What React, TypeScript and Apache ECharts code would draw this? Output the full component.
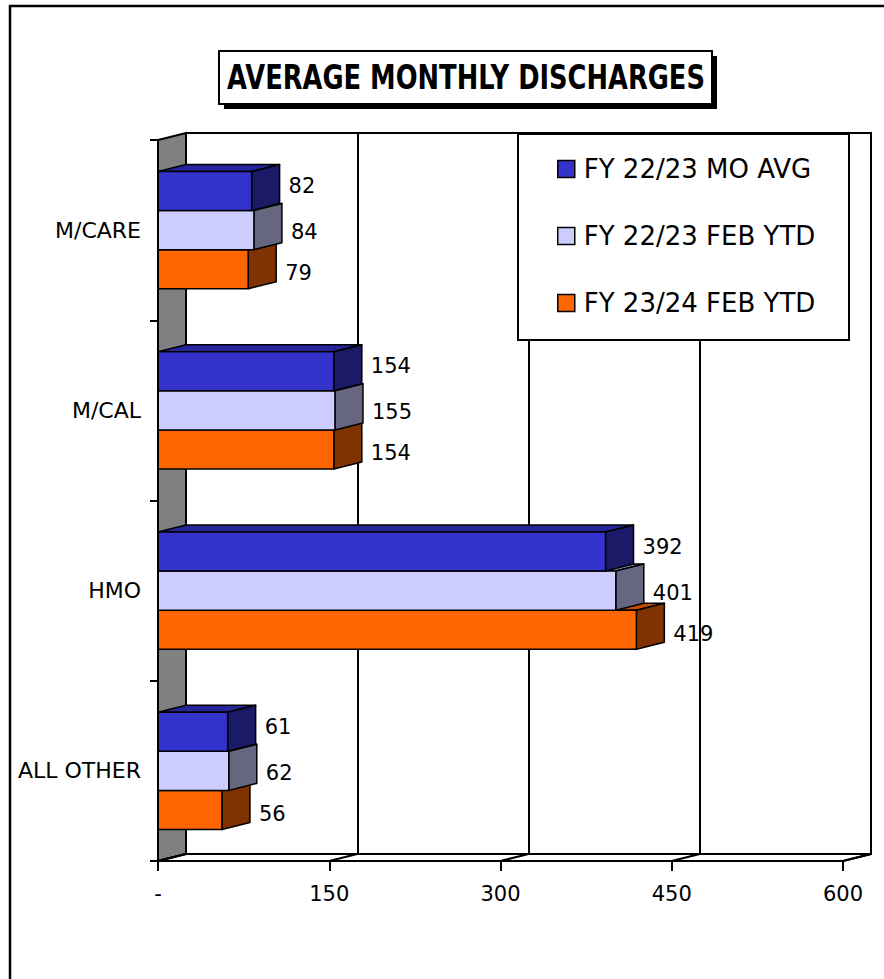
import React, { useEffect, useRef } from "react";
import * as echarts from "echarts";

const TITLE = "AVERAGE MONTHLY DISCHARGES";
const CATEGORIES = ["M/CARE", "M/CAL", "HMO", "ALL OTHER"];
const SERIES_NAMES = ["FY 22/23 MO AVG", "FY 22/23 FEB YTD", "FY 23/24 FEB YTD"];
const MO_AVG_2223 = [82, 154, 392, 61];
const FEB_YTD_2223 = [84, 155, 401, 62];
const FEB_YTD_2324 = [79, 154, 419, 56];
const X_TICKS = [0, 150, 300, 450, 600];

const FONT = "'DejaVu Sans', Verdana, sans-serif";
const DX = 28;
const DY = -7;

type Palette = { front: string; top: string; side: string };
const PALETTES: Palette[] = [
  { front: "#3333CC", top: "#26269A", side: "#1A1A66" },
  { front: "#CCCCFF", top: "#9999BF", side: "#666680" },
  { front: "#FF6600", top: "#BF4C00", side: "#803300" },
];
const LABEL_DY = [-5, 2, 4];

function barRenderer(slot: number, pal: Palette) {
  return (params: any, api: any) => {
    const v = api.value(0);
    const cat = api.value(1);
    const start = api.coord([0, cat]);
    const end = api.coord([v, cat]);
    const band = api.size([0, 1])[1];
    const h = (band * 39) / 180;
    const yT = start[1] - 1.5 * h + slot * h;
    const yB = yT + h;
    const x0 = start[0];
    const xr = end[0];
    const stroke = { stroke: "#000", lineWidth: 1.5, lineJoin: "round" };
    return {
      type: "group",
      children: [
        {
          type: "polygon",
          shape: { points: [[x0, yT], [x0 + DX, yT + DY], [xr + DX, yT + DY], [xr, yT]] },
          style: { fill: pal.top, ...stroke },
        },
        {
          type: "polygon",
          shape: { points: [[xr, yT], [xr + DX, yT + DY], [xr + DX, yB + DY], [xr, yB]] },
          style: { fill: pal.side, ...stroke },
        },
        {
          type: "rect",
          shape: { x: x0, y: yT, width: xr - x0, height: h },
          style: { fill: pal.front, ...stroke },
        },
        {
          type: "text",
          style: {
            text: String(v),
            x: xr + DX + 9,
            y: (yT + yB) / 2 + LABEL_DY[slot],
            fill: "#000",
            fontSize: 21,
            fontFamily: FONT,
            align: "left",
            verticalAlign: "middle",
          },
        },
      ],
    };
  };
}

function decorRenderer(params: any, api: any) {
  const cs = params.coordSys;
  const xL = cs.x;
  const yTop = cs.y;
  const yBot = cs.y + cs.height;
  const xR = cs.x + cs.width;
  const line = { stroke: "#000", lineWidth: 2 };
  const children: any[] = [
    {
      type: "polygon",
      shape: { points: [[xL, yTop], [xL + DX, yTop + DY], [xL + DX, yBot + DY], [xL, yBot]] },
      style: { fill: "#808080", ...line },
    },
    {
      type: "polygon",
      shape: { points: [[xL, yBot], [xR, yBot], [xR + DX, yBot + DY], [xL + DX, yBot + DY]] },
      style: { fill: "#FFFFFF", ...line },
    },
  ];
  X_TICKS.forEach((t) => {
    const px = api.coord([t, 0])[0];
    children.push({
      type: "line",
      shape: { x1: px, y1: yBot, x2: px + DX, y2: yBot + DY },
      style: line,
    });
  });
  return { type: "group", children };
}

export default function App() {
  const ref = useRef<HTMLDivElement>(null);

  useEffect(() => {
    if (!ref.current) return;
    const chart = echarts.init(ref.current, null, { renderer: "svg" });
    const allSeries = [MO_AVG_2223, FEB_YTD_2223, FEB_YTD_2324];

    const gridLeft = 158;
    const gridTop = 140;
    const gridW = 685;
    const gridH = 721;

    const option: any = {
      animation: false,
      backgroundColor: "#FFFFFF",
      textStyle: { fontFamily: FONT },
      grid: [
        { left: gridLeft, top: gridTop, width: gridW, height: gridH, containLabel: false },
        {
          left: gridLeft + DX,
          top: gridTop + DY,
          width: gridW,
          height: gridH,
          show: true,
          backgroundColor: "#FFFFFF",
          borderColor: "#000",
          borderWidth: 2,
          z: 0,
        },
      ],
      xAxis: [
        {
          type: "value",
          gridIndex: 0,
          min: 0,
          max: 600,
          interval: 150,
          z: 6,
          axisLine: { show: true, lineStyle: { color: "#000", width: 2 } },
          axisTick: { show: true, length: 10, lineStyle: { color: "#000", width: 2 } },
          splitLine: { show: false },
          axisLabel: {
            color: "#000",
            fontSize: 21,
            fontFamily: FONT,
            margin: 22,
            formatter: (v: number) => (v === 0 ? "-" : String(v)),
          },
        },
        {
          type: "value",
          gridIndex: 1,
          min: 0,
          max: 600,
          interval: 150,
          axisLine: { show: false },
          axisTick: { show: false },
          axisLabel: { show: false },
          splitLine: { show: true, lineStyle: { color: "#000", width: 2 } },
        },
      ],
      yAxis: [
        {
          type: "category",
          gridIndex: 0,
          data: CATEGORIES,
          inverse: true,
          z: 6,
          axisLine: { show: true, lineStyle: { color: "#000", width: 2 } },
          axisTick: { show: true, length: 8, alignWithLabel: false, lineStyle: { color: "#000", width: 2 } },
          axisLabel: { color: "#000", fontSize: 22, fontFamily: FONT, margin: 17 },
          splitLine: { show: false },
        },
        {
          type: "category",
          gridIndex: 1,
          data: CATEGORIES,
          inverse: true,
          show: false,
        },
      ],
      legend: {
        data: SERIES_NAMES,
        orient: "vertical",
        left: 557,
        top: 156,
        padding: 0,
        itemWidth: 17,
        itemHeight: 17,
        itemGap: 41,
        icon: "rect",
        z: 12,
        itemStyle: { borderColor: "#000", borderWidth: 1.5 },
        textStyle: { color: "#000", fontSize: 26, lineHeight: 26, fontFamily: FONT, padding: [0, 0, 0, 4] },
        selectedMode: false,
      },
      graphic: [
        {
          type: "rect",
          z: -1,
          silent: true,
          shape: { x: 10, y: 6, width: 1000, height: 1100 },
          style: { fill: "none", stroke: "#000", lineWidth: 2.5 },
        },
        {
          type: "rect",
          z: 10,
          silent: true,
          shape: { x: 224, y: 56, width: 493, height: 53 },
          style: { fill: "#000" },
        },
        {
          type: "rect",
          z: 11,
          silent: true,
          shape: { x: 219, y: 51, width: 493, height: 53 },
          style: { fill: "#FFF", stroke: "#000", lineWidth: 2 },
        },
        {
          type: "text",
          z: 12,
          silent: true,
          x: 466,
          y: 78,
          scaleX: 0.78,
          style: {
            text: TITLE,
            x: 0,
            y: 0,
            align: "center",
            verticalAlign: "middle",
            fill: "#000",
            fontSize: 33,
            fontWeight: "bold",
            fontFamily: FONT,
          },
        },
        {
          type: "rect",
          z: 10,
          silent: true,
          shape: { x: 518, y: 134, width: 331, height: 206 },
          style: { fill: "#FFF", stroke: "#000", lineWidth: 2 },
        },
      ],
      series: [
        {
          type: "custom",
          name: "decor",
          xAxisIndex: 0,
          yAxisIndex: 0,
          z: 1,
          silent: true,
          data: [[0, 0]],
          renderItem: decorRenderer,
        },
        ...SERIES_NAMES.map((name, i) => ({
          type: "custom",
          name,
          xAxisIndex: 0,
          yAxisIndex: 0,
          z: 5 - i,
          silent: true,
          itemStyle: { color: PALETTES[i].front, borderColor: "#000", borderWidth: 1.5 },
          encode: { x: 0, y: 1 },
          data: allSeries[i].map((v, ci) => [v, ci]),
          renderItem: barRenderer(i, PALETTES[i]),
        })),
      ],
    };

    chart.setOption(option);
    return () => {
      chart.dispose();
    };
  }, []);

  return (
    <div
      ref={ref}
      style={{ position: "fixed", left: 0, top: 0, width: 884, height: 979, background: "#fff" }}
    />
  );
}
